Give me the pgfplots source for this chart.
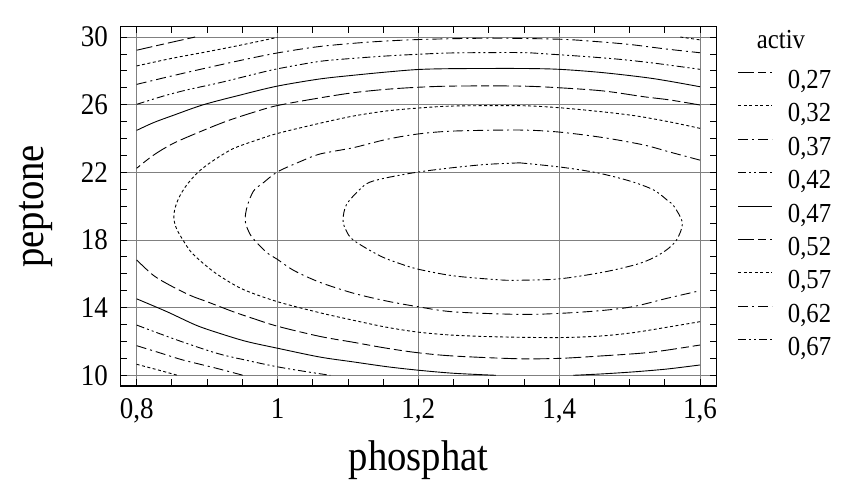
\documentclass[border=0pt]{standalone}
\usepackage{fontspec}
\setmainfont{Liberation Serif}[FakeStretch=0.9]
\usepackage{pgfplots}
\pgfplotsset{compat=1.18}

% line styles of the contour levels (they repeat after 0,47)
\pgfplotsset{
  lvA/.style={black, line width=0.9bp, smooth, dash pattern=on 16bp off 4bp on 8bp off 4bp},
  lvB/.style={black, line width=0.9bp, smooth, dash pattern=on 3bp off 2.5bp},
  lvC/.style={black, line width=0.9bp, smooth, dash pattern=on 10bp off 4bp on 2bp off 4bp},
  lvD/.style={black, line width=0.9bp, smooth, dash pattern=on 8bp off 3bp on 2bp off 3bp on 2bp off 3bp},
  lvE/.style={black, line width=0.9bp, smooth, solid},
}

\begin{document}
\begin{tikzpicture}
\begin{axis}[
  scale only axis, width=596bp, height=359.3bp,
  xmin=0.7773, xmax=1.6237, ymin=9.367, ymax=30.61,
  clip mode=individual,
  xtick={0.8,1,1.2,1.4,1.6}, ytick={10,14,18,22,26,30},
  minor x tick num=3, minor y tick num=3,
  tick align=inside, xtick pos=both, ytick pos=both,
  major tick length=6.5bp, minor tick length=6.5bp,
  every tick/.style={black, line width=0.8bp},
  grid=major, major grid style={gray, line width=0.8bp},
  axis line style={line width=1.2bp},
  no markers,
  /pgf/number format/use comma,
  /pgf/number format/assume math mode=true,
  tick label style={font=\fontsize{30bp}{33bp}\selectfont},
  xticklabel style={inner sep=0pt, yshift=-12bp},
  yticklabel style={inner sep=0pt, xshift=-12.7bp},
  xlabel={phosphat}, ylabel={peptone},
  label style={font=\fontsize{43bp}{48bp}\selectfont},
  xlabel style={at={(axis description cs:0.5,-0.2338)}, anchor=base, inner sep=0pt},
  ylabel style={at={(axis description cs:-0.1295,0.5)}, anchor=base, inner sep=0pt},
  legend cell align=left,
  legend image code/.code={\draw[#1] (0bp,9bp) -- (34bp,9bp);},
  legend style={draw=none, fill=none, at={(axis description cs:1.0357,0.8809)},
    anchor=north west, inner sep=0pt, outer sep=0pt, row sep=9.4bp,
    font=\fontsize{27.5bp}{32bp}\selectfont,
    nodes={inner sep=0pt, text height=19bp, text depth=5bp},
    /tikz/every odd column/.append style={column sep=15bp}},
]

% 0,27
\addplot[lvA] coordinates {(0.8,29.22) (0.84,29.6) (0.883,30.0)};
\addlegendentry{0,27}

% 0,32
\addplot[lvB] coordinates {(0.8,28.29) (0.85,28.74) (0.9,29.13) (0.95,29.54) (1.0,29.98)};
\addlegendentry{0,32}
\addplot[lvB, forget plot] coordinates {(0.8,10.65) (0.83,10.32) (0.858,10.0)};
\addplot[lvB, forget plot] coordinates {(1.572,30.0) (1.6,29.83)};

% 0,37
\addplot[lvC] coordinates {(0.8,27.2) (0.85,27.7) (0.9,28.18) (0.95,28.64) (1.0,29.06)
  (1.06,29.44) (1.13,29.7) (1.2,29.85) (1.3,29.93) (1.4,29.87) (1.45,29.74)
  (1.5,29.56) (1.55,29.3) (1.6,29.07)};
\addlegendentry{0,37}
\addplot[lvC, forget plot] coordinates {(0.8,11.75) (0.835,11.3) (0.866,10.9) (0.91,10.45) (0.951,10.0)};

% 0,42
\addplot[lvD] coordinates {(0.8,26.02) (0.838,26.51) (0.871,26.87) (0.918,27.3) (0.966,27.79)
  (1.0,28.12) (1.06,28.56) (1.108,28.74) (1.155,28.88) (1.2,28.98) (1.25,29.06)
  (1.344,29.08) (1.382,29.0) (1.439,28.84) (1.486,28.68) (1.534,28.46) (1.6,28.09)};
\addlegendentry{0,42}
\addplot[lvD, forget plot] coordinates {(0.8,12.97) (0.857,12.09) (0.914,11.3) (0.96,10.85)
  (1.0,10.5) (1.04,10.22) (1.075,10.0)};

% 0,47
\addplot[lvE] coordinates {(0.8,24.48) (0.824,24.94) (0.852,25.37) (0.895,26.0) (0.95,26.6)
  (1.0,27.1) (1.06,27.52) (1.108,27.74) (1.155,27.93) (1.2,28.08) (1.25,28.13)
  (1.344,28.14) (1.4,28.09) (1.463,27.89) (1.534,27.54) (1.6,27.06)};
\addlegendentry{0,47}
\addplot[lvE, forget plot] coordinates {(0.8,14.52) (0.843,13.76) (0.885,12.95) (0.92,12.45)
  (0.956,12.0) (1.0,11.6) (1.06,11.08) (1.108,10.79) (1.155,10.51) (1.2,10.3)
  (1.25,10.12) (1.31,10.0)};
\addplot[lvE, forget plot] coordinates {(1.42,10.0) (1.46,10.08) (1.505,10.2) (1.553,10.37) (1.6,10.61)};

% 0,52
\addplot[lvA] coordinates {(1.6,25.98) (1.557,26.28) (1.52,26.47) (1.463,26.81) (1.4,27.0)
  (1.344,27.1) (1.25,27.1) (1.2,27.03) (1.155,26.91) (1.108,26.71) (1.06,26.4)
  (1.0,25.95) (0.966,25.55) (0.928,25.03) (0.89,24.4) (0.852,23.71) (0.824,23.02)
  (0.8,22.24)};
\addlegendentry{0,52}
\addplot[lvA, forget plot] coordinates {(0.8,16.82) (0.824,15.9) (0.85,15.26) (0.878,14.69)
  (0.9,14.35) (0.937,13.76) (0.966,13.35) (1.0,12.9) (1.06,12.3) (1.108,11.95)
  (1.155,11.6) (1.2,11.33) (1.25,11.14) (1.34,10.98) (1.4,11.0) (1.458,11.14)
  (1.53,11.36) (1.6,11.79)};

% 0,57
\addplot[lvB] coordinates {(1.6,24.6) (1.557,24.98) (1.51,25.33) (1.463,25.57) (1.4,25.82)
  (1.344,25.94) (1.25,25.92) (1.2,25.8) (1.155,25.63) (1.108,25.33) (1.06,24.9)
  (1.0,24.3) (0.97,23.9) (0.937,23.4) (0.909,22.7) (0.888,22.04) (0.871,21.25)
  (0.86,20.5) (0.854,19.8) (0.853,19.2) (0.857,18.63) (0.866,17.98) (0.878,17.25)
  (0.899,16.46) (0.918,15.87) (0.951,15.08) (1.0,14.35) (1.06,13.7) (1.108,13.25)
  (1.155,12.84) (1.2,12.55) (1.25,12.37) (1.316,12.27) (1.4,12.23) (1.458,12.32)
  (1.505,12.52) (1.553,12.84) (1.6,13.17)};
\addlegendentry{0,57}

% 0,62
\addplot[lvC] coordinates {(1.6,22.72) (1.557,23.2) (1.52,23.62) (1.463,24.05) (1.4,24.38)
  (1.344,24.5) (1.25,24.44) (1.2,24.27) (1.155,23.95) (1.108,23.46) (1.06,23.08)
  (1.032,22.63) (1.0,22.03) (0.98,21.39) (0.966,20.9) (0.957,20.0) (0.954,19.2)
  (0.958,18.6) (0.965,18.1) (0.985,17.25) (1.0,16.85) (1.023,16.2) (1.06,15.5)
  (1.108,14.85) (1.155,14.39) (1.2,14.05) (1.25,13.75) (1.344,13.6) (1.4,13.66)
  (1.458,13.82) (1.505,14.06) (1.553,14.55) (1.6,15.0)};
\addlegendentry{0,62}

% 0,67
\addplot[lvD] coordinates {(1.344,22.56) (1.297,22.47) (1.25,22.28) (1.2,22.02) (1.155,21.68)
  (1.13,21.4) (1.117,21.0) (1.098,20.1) (1.093,19.2) (1.097,18.6) (1.108,17.98)
  (1.146,17.05) (1.174,16.6) (1.2,16.27) (1.25,15.88) (1.316,15.64) (1.344,15.62)
  (1.4,15.7) (1.463,16.1) (1.51,16.56) (1.534,16.95) (1.553,17.43) (1.567,18.02)
  (1.575,19.0) (1.563,20.0) (1.555,20.3) (1.534,20.96) (1.5,21.49) (1.453,21.98)
  (1.4,22.32) (1.344,22.56)};
\addlegendentry{0,67}

\node[font=\fontsize{27.5bp}{32bp}\selectfont] at (axis description cs:1.1079,0.963) {activ};

\coordinate (bbsw) at (rel axis cs:0,0);
\coordinate (bbne) at (rel axis cs:1,1);
\end{axis}
\pgfresetboundingbox
\path[use as bounding box] ([shift={(-120.7bp,-106bp)}]bbsw) rectangle ([shift={(135.3bp,26.7bp)}]bbne);
\end{tikzpicture}
\end{document}
